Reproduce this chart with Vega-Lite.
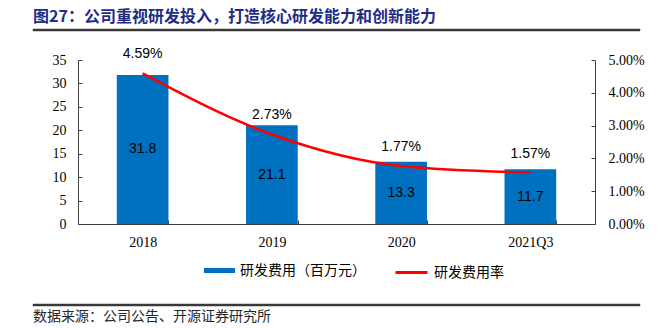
{
  "$schema": "https://vega.github.io/schema/vega-lite/v6.json",
  "background": "white",
  "padding": {"left": 32, "top": 8, "right": 24, "bottom": 0},
  "bounds": "flush",
  "center": true,
  "spacing": 29,
  "datasets": {
    "main": [
      {"period": "2018", "expense": 31.8, "rate": 0.0459},
      {"period": "2019", "expense": 21.1, "rate": 0.0273},
      {"period": "2020", "expense": 13.3, "rate": 0.0177},
      {"period": "2021Q3", "expense": 11.7, "rate": 0.0157}
    ]
  },
  "resolve": {
    "scale": {"fill": "independent", "stroke": "independent"},
    "legend": {"fill": "independent", "stroke": "independent"}
  },
  "vconcat": [
    {
      "width": 607,
      "height": 2,
      "view": {"fill": "#3A3A3A", "stroke": "#3A3A3A", "strokeWidth": 0.5},
      "title": {
        "text": "图27：公司重视研发投入，打造核心研发能力和创新能力",
        "anchor": "start",
        "fontSize": 16,
        "fontWeight": "bold",
        "font": "Noto Sans CJK SC",
        "color": "#1F2D86",
        "offset": 4
      },
      "data": {"values": [{}]},
      "mark": {"type": "rule", "opacity": 0},
      "encoding": {
        "x": {"datum": 0, "type": "quantitative", "scale": {"domain": [0, 1]}, "axis": null}
      }
    },
    {
      "width": 517,
      "height": 164,
      "data": {"name": "main"},
      "resolve": {"scale": {"y": "independent"}},
      "encoding": {
        "x": {
          "field": "period",
          "type": "nominal",
          "sort": null,
          "scale": {"paddingInner": 0.6, "paddingOuter": 0.3},
          "axis": {
            "title": null,
            "labelAngle": 0,
            "tickBand": "extent",
            "tickSize": -4,
            "labelPadding": 15,
            "labelFont": "Liberation Serif",
            "labelFontSize": 14
          }
        }
      },
      "layer": [
        {
          "mark": {"type": "bar"},
          "encoding": {
            "y": {
              "field": "expense",
              "type": "quantitative",
              "scale": {"domain": [0, 35], "nice": false},
              "axis": {
                "orient": "left",
                "title": null,
                "values": [0, 5, 10, 15, 20, 25, 30, 35],
                "tickSize": -4,
                "labelPadding": 16,
                "grid": false
              }
            },
            "fill": {
              "datum": "研发费用（百万元）",
              "type": "nominal",
              "scale": {"range": ["#0070C0"]},
              "legend": {
                "orient": "bottom",
                "title": "\u00a0",
                "titleOrient": "left",
                "titleFontSize": 14,
                "titlePadding": 34,
                "symbolType": "M-1,-0.16H1V0.16H-1Z",
                "symbolSize": 961,
                "symbolStrokeWidth": 0,
                "labelOffset": 5,
                "offset": 6
              }
            }
          }
        },
        {
          "mark": {"type": "text", "font": "Liberation Sans", "fontSize": 14, "color": "#000000"},
          "encoding": {
            "y": {"field": "expense", "type": "quantitative", "scale": {"domain": [0, 70], "nice": false}, "axis": null},
            "text": {"field": "expense", "type": "quantitative", "format": ".1f"}
          }
        },
        {
          "mark": {"type": "line", "interpolate": "monotone", "strokeWidth": 2.5},
          "encoding": {
            "y": {
              "field": "rate",
              "type": "quantitative",
              "scale": {"domain": [0, 0.05], "nice": false},
              "axis": {
                "orient": "right",
                "title": null,
                "format": ".2%",
                "values": [0, 0.01, 0.02, 0.03, 0.04, 0.05],
                "tickSize": -4,
                "labelPadding": 17,
                "grid": false
              }
            },
            "stroke": {
              "datum": "研发费用率",
              "type": "nominal",
              "scale": {"range": ["#FF0000"]},
              "legend": {
                "orient": "bottom",
                "title": null,
                "symbolType": "stroke",
                "symbolSize": 1024,
                "symbolStrokeWidth": 3,
                "labelOffset": 5,
                "offset": 6
              }
            }
          }
        },
        {
          "mark": {"type": "text", "font": "Liberation Sans", "fontSize": 14, "color": "#000000", "dy": -19},
          "encoding": {
            "y": {"field": "rate", "type": "quantitative", "scale": {"domain": [0, 0.05], "nice": false}, "axis": null},
            "text": {"field": "rate", "type": "quantitative", "format": ".2%"}
          }
        }
      ]
    },
    {
      "width": 607,
      "height": 22,
      "data": {"values": [{}]},
      "mark": {"type": "rule", "opacity": 0},
      "encoding": {
        "x": {"datum": 0, "type": "quantitative", "scale": {"domain": [0, 1]}, "axis": null}
      }
    },
    {
      "width": 607,
      "height": 2,
      "view": {"fill": "#3A3A3A", "stroke": "#3A3A3A", "strokeWidth": 0.5},
      "title": {
        "text": "数据来源：公司公告、开源证券研究所",
        "orient": "bottom",
        "anchor": "start",
        "fontSize": 14,
        "fontWeight": "normal",
        "font": "Noto Sans CJK SC",
        "color": "#262626",
        "offset": 4
      },
      "data": {"values": [{}]},
      "mark": {"type": "rule", "opacity": 0},
      "encoding": {
        "x": {"datum": 0, "type": "quantitative", "scale": {"domain": [0, 1]}, "axis": null}
      }
    }
  ],
  "config": {
    "view": {"stroke": null},
    "axis": {
      "domainColor": "#404040",
      "tickColor": "#404040",
      "labelFont": "Liberation Serif",
      "labelFontSize": 14,
      "labelColor": "#000000",
      "grid": false
    },
    "legend": {
      "labelFont": "Noto Sans CJK SC",
      "labelFontSize": 14,
      "labelColor": "#000000",
      "layout": {"bottom": {"anchor": "middle", "direction": "horizontal", "margin": 28}}
    }
  }
}
